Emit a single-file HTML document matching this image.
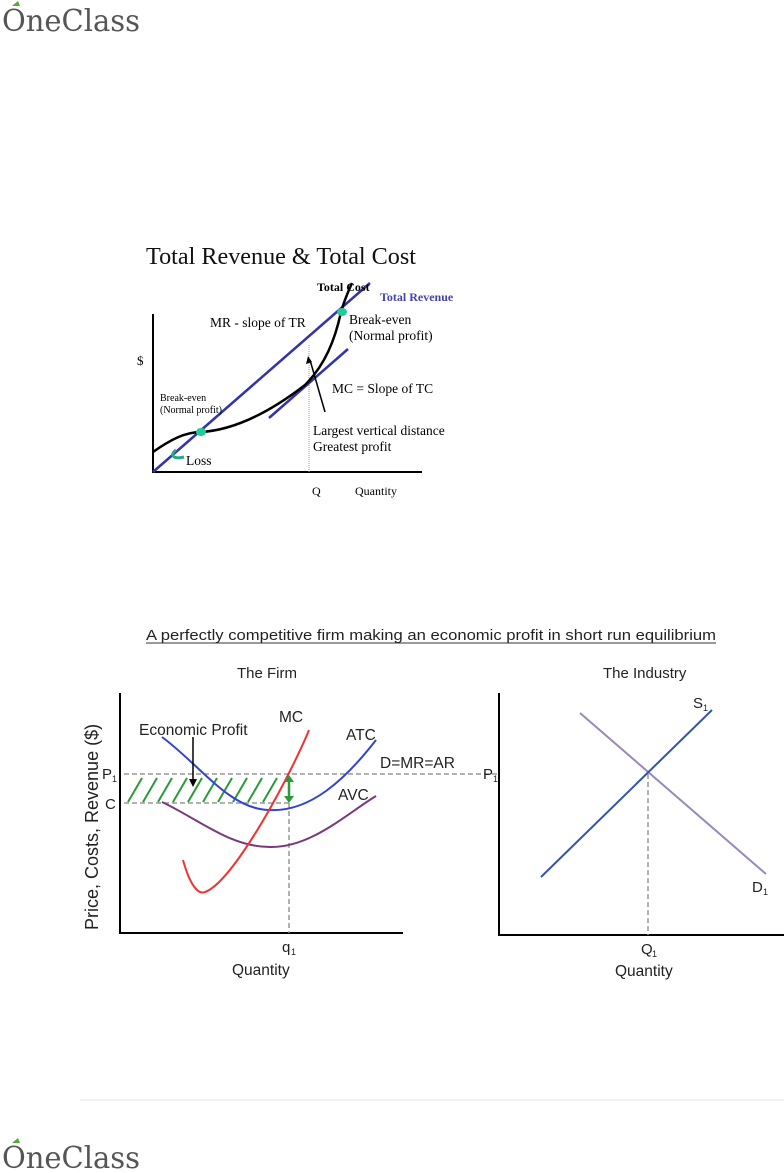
<!DOCTYPE html>
<html><head><meta charset="utf-8"><style>
body{margin:0;background:#fff;width:784px;height:1173px;overflow:hidden;}
svg{display:block}
</style></head><body>
<svg width="784" height="1173" viewBox="0 0 784 1173" xmlns="http://www.w3.org/2000/svg">
<g font-family="DejaVu Serif, serif" fill="#555">
<text x="2" y="31" font-size="30" textLength="138" lengthAdjust="spacingAndGlyphs">OneClass</text>
<path d="M12 6 l6 -5 l2 5 z" fill="#5a3"/>
<text x="2" y="1168" font-size="30" textLength="138" lengthAdjust="spacingAndGlyphs">OneClass</text>
<path d="M12 1143 l6 -5 l2 5 z" fill="#5a3"/>
</g>
<line x1="80" y1="1100" x2="784" y2="1100" stroke="#e6e6e6" stroke-width="1"/>

<g font-family="Liberation Serif, serif">
<text x="146" y="264" font-size="24" fill="#111" textLength="270" lengthAdjust="spacingAndGlyphs">Total Revenue &amp; Total Cost</text>
<line x1="153" y1="314" x2="153" y2="473" stroke="#000" stroke-width="2"/>
<line x1="152" y1="472" x2="422" y2="472" stroke="#000" stroke-width="2"/>
<line x1="309" y1="345" x2="309" y2="472" stroke="#999" stroke-width="1" stroke-dasharray="1,1"/>
<line x1="153" y1="472" x2="370" y2="283" stroke="#3333aa" stroke-width="2.5"/>
<line x1="269" y1="418" x2="348" y2="349" stroke="#3333aa" stroke-width="2.5"/>
<path d="M153 452 C170 440,185 432,201 432 C235 430,270 412,305 385 C325 365,335 340,341 312 C345 298,349 290,352 283" fill="none" stroke="#000" stroke-width="2.5"/>
<ellipse cx="201" cy="432" rx="5" ry="4" fill="#2c9"/>
<ellipse cx="342" cy="312" rx="5" ry="4" fill="#2c9"/>
<path d="M176 450 C170 454,172 460,184 457" fill="none" stroke="#2a8" stroke-width="3"/>
<line x1="325" y1="412" x2="310" y2="360" stroke="#000" stroke-width="1.5"/>
<path d="M308 356 l-2 8 l6 -2 z" fill="#000"/>
<text x="317" y="291" font-size="12" font-weight="bold">Total Cost</text>
<text x="380" y="301" font-size="12" font-weight="bold" fill="#4444aa">Total Revenue</text>
<text x="210" y="327" font-size="13.5">MR - slope of TR</text>
<text x="349" y="324" font-size="13.5">Break-even</text>
<text x="349" y="340" font-size="13.5">(Normal profit)</text>
<text x="332" y="393" font-size="13.5">MC = Slope of TC</text>
<text x="160" y="401" font-size="10">Break-even</text>
<text x="160" y="413" font-size="10">(Normal profit)</text>
<text x="313" y="435" font-size="13.5">Largest vertical distance</text>
<text x="313" y="451" font-size="13.5">Greatest profit</text>
<text x="186" y="465" font-size="13.5">Loss</text>
<text x="137" y="365" font-size="13">$</text>
<text x="312" y="495" font-size="12">Q</text>
<text x="355" y="495" font-size="12">Quantity</text>
</g>

<g font-family="Liberation Sans, sans-serif" fill="#222">
<text x="146" y="640" font-size="15" textLength="570" lengthAdjust="spacingAndGlyphs">A perfectly competitive firm making an economic profit in short run equilibrium</text>
<line x1="146" y1="643" x2="716" y2="643" stroke="#333" stroke-width="1"/>
<text x="237" y="678" font-size="15">The Firm</text>
<text x="603" y="678" font-size="15">The Industry</text>
<text transform="translate(98,930) rotate(-90)" font-size="18">Price, Costs, Revenue ($)</text>
<line x1="120" y1="693" x2="120" y2="934" stroke="#000" stroke-width="2"/>
<line x1="119" y1="933" x2="403" y2="933" stroke="#000" stroke-width="2"/>
<line x1="124" y1="774" x2="497" y2="774" stroke="#999" stroke-width="1.5" stroke-dasharray="5,3"/>
<line x1="124" y1="803" x2="289" y2="803" stroke="#999" stroke-width="1.5" stroke-dasharray="5,3"/>
<line x1="289" y1="803" x2="289" y2="933" stroke="#999" stroke-width="1.5" stroke-dasharray="5,3"/>
<g stroke="#2a9a3a" stroke-width="2">
<line x1="128" y1="802" x2="142" y2="778"/><line x1="143" y1="802" x2="157" y2="778"/><line x1="158" y1="802" x2="172" y2="778"/><line x1="173" y1="802" x2="187" y2="778"/><line x1="188" y1="802" x2="202" y2="778"/><line x1="203" y1="802" x2="217" y2="778"/><line x1="218" y1="802" x2="232" y2="778"/><line x1="233" y1="802" x2="247" y2="778"/><line x1="248" y1="802" x2="262" y2="778"/><line x1="263" y1="802" x2="277" y2="778"/>
</g>
<path d="M162 737 C200 765,230 810,270 810 C310 812,345 780,376 740" fill="none" stroke="#3344cc" stroke-width="2"/>
<path d="M162 802 C200 820,230 847,270 847 C310 848,345 815,376 796" fill="none" stroke="#7a3a7a" stroke-width="2"/>
<path d="M183 860 C190 885,198 895,205 892 C225 885,260 830,289 773 C297 757,303 745,309 730" fill="none" stroke="#e33" stroke-width="2"/>
<line x1="289" y1="781" x2="289" y2="797" stroke="#2a9a3a" stroke-width="2.5"/>
<path d="M284 782 l5 -7 l5 7 z M284 796 l5 7 l5 -7 z" fill="#2a9a3a"/>
<line x1="193" y1="737" x2="193" y2="780" stroke="#000" stroke-width="1.5"/>
<path d="M189 779 l4 8 l4 -8 z" fill="#000"/>
<text x="139" y="735" font-size="15.5">Economic Profit</text>
<text x="279" y="722" font-size="15.5">MC</text>
<text x="346" y="740" font-size="15.5">ATC</text>
<text x="380" y="768" font-size="15.5">D=MR=AR</text>
<text x="338" y="800" font-size="15.5">AVC</text>
<text x="102" y="779" font-size="15">P</text><text x="112" y="782" font-size="9">1</text>
<text x="105" y="809" font-size="15">C</text>
<text x="282" y="952" font-size="15">q</text><text x="291" y="955" font-size="9">1</text>
<text x="232" y="975" font-size="15.5">Quantity</text>
<line x1="499" y1="693" x2="499" y2="936" stroke="#000" stroke-width="2"/>
<line x1="498" y1="935" x2="784" y2="935" stroke="#000" stroke-width="2"/>
<line x1="648" y1="774" x2="648" y2="935" stroke="#999" stroke-width="1.5" stroke-dasharray="5,3"/>
<line x1="580" y1="713" x2="766" y2="874" stroke="#9988bb" stroke-width="2"/>
<line x1="541" y1="877" x2="712" y2="710" stroke="#3355aa" stroke-width="2"/>
<text x="483" y="779" font-size="15">P</text><text x="493" y="782" font-size="9">1</text>
<text x="693" y="708" font-size="15">S</text><text x="703" y="711" font-size="9">1</text>
<text x="752" y="892" font-size="15">D</text><text x="763" y="895" font-size="9">1</text>
<text x="641" y="954" font-size="15">Q</text><text x="652" y="957" font-size="9">1</text>
<text x="615" y="976" font-size="15.5">Quantity</text>
</g>
</svg>
</body></html>
